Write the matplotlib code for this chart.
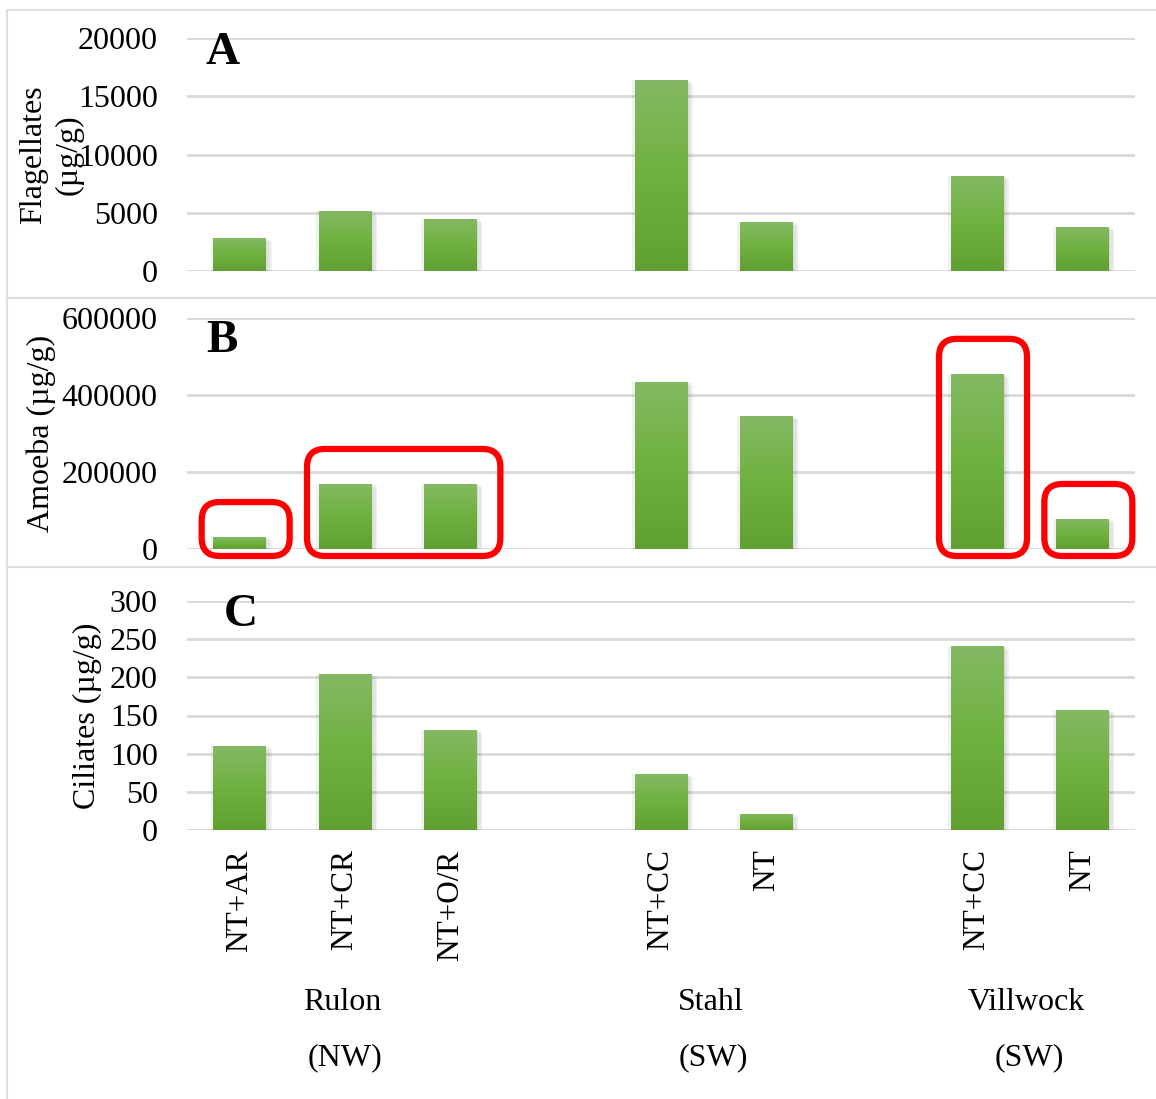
import matplotlib.pyplot as plt
import numpy as np
from matplotlib.patches import Rectangle, FancyBboxPatch
from matplotlib.colors import LinearSegmentedColormap
from matplotlib.transforms import IdentityTransform, blended_transform_factory
import matplotlib.patheffects as pe

plt.rcParams['font.family'] = 'Liberation Serif'

# data
treatments = ["NT+AR", "NT+CR", "NT+O/R", "NT+CC", "NT", "NT+CC", "NT"]
sites = ["Rulon", "Stahl", "Villwock"]
regions = ["(NW)", "(SW)", "(SW)"]
site_sizes = [3, 2, 2]

flagellates = [2800, 5150, 4450, 16400, 4200, 8150, 3800]
amoeba = [31000, 169000, 169000, 434000, 345000, 455000, 78000]
ciliates = [110, 204, 131, 73, 21, 241, 157]

# bars circled in red in panel B (indices into the lists above)
highlight = [[0], [1, 2], [5], [6]]

W, H = 1156, 1099
grid_col = "#d9d9d9"
green = LinearSegmentedColormap.from_list("g", ["#60a033", "#6fb13f", "#84b964"])

# slot positions, one empty slot between sites
positions = []
p = 0
for n in site_sizes:
    positions += list(range(p, p + n))
    p += n + 1
positions = np.array(positions)

fig = plt.figure(figsize=(W / 100, H / 100), dpi=100)

# panel frames (pixels)
for y0, y1 in [(10, 298), (298, 567), (567, 1110)]:
    fig.add_artist(Rectangle((7, H - y1), W + 10, y1 - y0, transform=IdentityTransform(),
                             fill=False, edgecolor="#dedede", lw=1.5))

panels = [
    # values, ymax, step, ylabel, label x, letter, letter pos, pixel top/bottom
    (flagellates, 20000, 5000, "Flagellates\n(\u00b5g/g)", -0.1435, "A", (0.038, 0.935), 38, 271),
    (amoeba, 600000, 200000, "Amoeba (\u00b5g/g)", -0.154, "B", (0.037, 0.9), 318, 549),
    (ciliates, 300, 50, "Ciliates (\u00b5g/g)", -0.1055, "C", (0.057, 0.94), 601, 830),
]

shadow = [pe.withSimplePatchShadow(offset=o, shadow_rgbFace="#444444", alpha=0.07)
          for o in [(-2, 0), (1, -1), (3, -1), (4, -2)]]

left, right = 187, 1135
axes = []
for vals, ymax, step, ylab, lx, letter, lpos, ptop, pbot in panels:
    ax = fig.add_axes([left / W, 1 - pbot / H, (right - left) / W, (pbot - ptop) / H])
    axes.append(ax)
    bars = ax.bar(positions, vals, width=0.5, color="#6fb13f", zorder=3, path_effects=shadow)
    grad = np.linspace(0, 1, 200).reshape(-1, 1)
    for b in bars:
        im = ax.imshow(grad, extent=(b.get_x(), b.get_x() + b.get_width(), 0, b.get_height()),
                       origin="lower", aspect="auto", cmap=green, zorder=4)
        im.set_clip_path(b)
    ax.set_xlim(-0.5, positions[-1] + 0.5)
    ax.set_ylim(0, ymax)
    ax.set_yticks(np.arange(0, ymax + step / 2, step))
    ax.yaxis.grid(True, color=grid_col, lw=2)
    ax.set_axisbelow(True)
    for s in ax.spines.values():
        s.set_visible(False)
    ax.tick_params(axis="y", length=0, pad=21, labelsize=23)
    ax.tick_params(axis="x", length=0)
    ax.set_xticks(positions)
    ax.set_xticklabels([])
    ax.text(lx, 0.5, ylab, transform=ax.transAxes, rotation=90, ha="center", va="center",
            fontsize=23, linespacing=1.3)
    ax.text(lpos[0], lpos[1], letter, transform=ax.transAxes, ha="center", va="center",
            fontsize=34, fontweight="bold")

# x labels on the bottom panel
ax3 = axes[2]
ax3.set_xticklabels(treatments, rotation=90, fontsize=22.5)
ax3.tick_params(axis="x", pad=14)
tr = blended_transform_factory(ax3.transData, fig.transFigure)
start = 0
for name, reg, n in zip(sites, regions, site_sizes):
    xc = positions[start:start + n].mean()
    ax3.text(xc - 0.03, 1 - 1003 / H, name, transform=tr, ha="center", va="center", fontsize=23)
    ax3.text(xc, 1 - 1058 / H, reg, transform=tr, ha="center", va="center", fontsize=23)
    start += n

# red rounded boxes on panel B
ax2 = axes[1]
for grp in highlight:
    xa, _ = ax2.transData.transform((positions[grp[0]], 0))
    xb, y0 = ax2.transData.transform((positions[grp[-1]], 0))
    _, ytop = ax2.transData.transform((0, max(amoeba[i] for i in grp)))
    x0 = xa - 38
    x1 = xb + 50
    yb = y0 - 7
    yt = ytop + 35
    fig.add_artist(FancyBboxPatch((x0, yb), x1 - x0, yt - yb,
                                  boxstyle="round,pad=0,rounding_size=18",
                                  transform=IdentityTransform(), fill=False,
                                  edgecolor="#ff0000", lw=4.5, zorder=10))

fig.savefig("out.png", dpi=100)
